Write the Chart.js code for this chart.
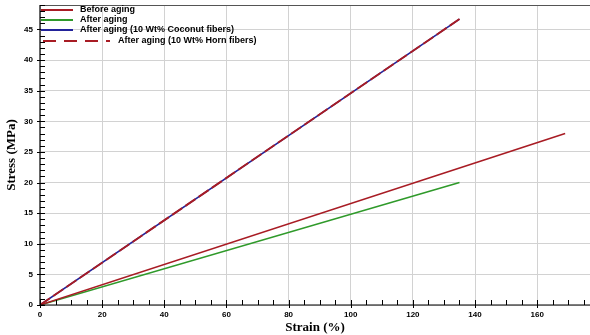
<!DOCTYPE html>
<html>
<head>
<meta charset="utf-8">
<script src="https://cdn.jsdelivr.net/npm/chart.js@4.4.0/dist/chart.umd.min.js"></script>
<style>
  html, body { margin: 0; padding: 0; background: #fff; }
  #wrap { width: 590px; height: 335px; }
</style>
</head>
<body>
<div id="wrap"><canvas id="chart"></canvas></div>
<script>
// Données (déformation %, contrainte MPa)
const seriesNames = [
  'Before aging',
  'After aging',
  'After aging (10 Wt% Coconut fibers)',
  'After aging (10 Wt% Horn fibers)'
];
const beforeStrain = [0, 169];
const beforeStress = [0, 28];
const afterStrain = [0, 135];
const afterStress = [0, 20];
const coconutStrain = [0, 135];
const coconutStress = [0, 46.7];
const hornStrain = [0, 135];
const hornStress = [0, 46.7];

const xTicks = [0, 20, 40, 60, 80, 100, 120, 140, 160];
const yTicks = [0, 5, 10, 15, 20, 25, 30, 35, 40, 45];

const RED = '#a81c24';
const GREEN = '#2f9a2a';
const BLUE = '#23239a';

function toPoints(xs, ys) {
  return xs.map((x, i) => ({ x: x, y: ys[i] }));
}

// Ticks vers l'intérieur + cadre + légende dessinés à la main
const framePlugin = {
  id: 'frame',
  afterDraw(chart) {
    const ctx = chart.ctx;
    const a = chart.chartArea;
    const xs = chart.scales.x;
    const ys = chart.scales.y;
    ctx.save();

    // cadre
    ctx.strokeStyle = '#555';
    ctx.lineWidth = 1;
    ctx.beginPath();
    ctx.moveTo(a.left, a.top + 0.5);
    ctx.lineTo(a.right, a.top + 0.5);
    ctx.stroke();

    ctx.strokeStyle = '#000';
    ctx.lineWidth = 1.2;
    ctx.beginPath();
    ctx.moveTo(a.left, a.top);
    ctx.lineTo(a.left, a.bottom);
    ctx.lineTo(a.right, a.bottom);
    ctx.stroke();

    // ticks x : tous les 5
    ctx.lineWidth = 1;
    for (let v = 0; v <= xs.max; v += 5) {
      const px = Math.round(xs.getPixelForValue(v)) + 0.5;
      const major = v % 20 === 0;
      ctx.beginPath();
      ctx.moveTo(px, a.bottom - 5);
      ctx.lineTo(px, a.bottom + (major ? 3 : 0));
      ctx.stroke();
    }
    // ticks y : tous les 1
    for (let v = 0; v <= ys.max; v += 1) {
      const py = Math.round(ys.getPixelForValue(v)) + 0.5;
      const major = v % 5 === 0;
      ctx.beginPath();
      ctx.moveTo(a.left - (major ? 3 : 0), py);
      ctx.lineTo(a.left + 5, py);
      ctx.stroke();
    }

    // légende
    const rows = [
      { y: 10, x0: 41, x1: 73, tx: 80, color: RED, dash: [] },
      { y: 20, x0: 41, x1: 73, tx: 80, color: GREEN, dash: [] },
      { y: 30, x0: 41, x1: 73, tx: 80, color: BLUE, dash: [] },
      { y: 41, x0: 43, x1: 110, tx: 118, color: RED, dash: [13, 8] }
    ];
    ctx.font = 'bold 9px "Liberation Sans", Arial, sans-serif';
    ctx.textBaseline = 'middle';
    ctx.fillStyle = '#000';
    rows.forEach((r, i) => {
      ctx.strokeStyle = r.color;
      ctx.lineWidth = 2;
      ctx.setLineDash(r.dash);
      ctx.beginPath();
      ctx.moveTo(r.x0, r.y);
      ctx.lineTo(r.x1, r.y);
      ctx.stroke();
      ctx.setLineDash([]);
      ctx.fillText(seriesNames[i], r.tx, r.y);
    });

    ctx.restore();
  }
};

const lineStyle = {
  showLine: true,
  pointRadius: 0,
  pointHoverRadius: 0,
  borderWidth: 1.6,
  tension: 0,
  fill: false
};

new Chart(document.getElementById('chart'), {
  type: 'scatter',
  data: {
    datasets: [
      Object.assign({ label: seriesNames[0], data: toPoints(beforeStrain, beforeStress), borderColor: RED }, lineStyle),
      Object.assign({ label: seriesNames[1], data: toPoints(afterStrain, afterStress), borderColor: GREEN }, lineStyle),
      Object.assign({ label: seriesNames[2], data: toPoints(coconutStrain, coconutStress), borderColor: BLUE }, lineStyle),
      // tirets rouges au-dessus de la ligne bleue
      Object.assign({}, lineStyle, { label: seriesNames[3], data: toPoints(hornStrain, hornStress), borderColor: RED, borderDash: [12, 4], borderWidth: 1.9, order: -1 })
    ]
  },
  options: {
    responsive: true,
    maintainAspectRatio: false,
    animation: false,
    layout: { autoPadding: false, padding: { top: 5, right: 0, left: 0, bottom: 0 } },
    plugins: {
      legend: { display: false },
      tooltip: { enabled: false }
    },
    scales: {
      x: {
        type: 'linear',
        min: 0,
        max: 177,
        afterBuildTicks(scale) {
          scale.ticks = xTicks.map(v => ({ value: v }));
        },
        afterFit(scale) {
          scale.height = 30;
          scale.paddingLeft = 0;
          scale.paddingRight = 0;
        },
        grid: { color: '#d2d2d2', drawTicks: false },
        border: { display: false },
        ticks: {
          padding: 5,
          maxRotation: 0,
          color: '#000',
          font: { family: '"Liberation Sans", Arial, sans-serif', size: 8, weight: 'bold' }
        },
        title: {
          display: true,
          text: 'Strain (%)',
          color: '#000',
          padding: { top: 0, bottom: 0 },
          font: { family: '"Liberation Serif", "Times New Roman", serif', size: 13, weight: 'bold' }
        }
      },
      y: {
        type: 'linear',
        min: 0,
        max: 49,
        afterBuildTicks(scale) {
          scale.ticks = yTicks.map(v => ({ value: v }));
        },
        afterFit(scale) {
          scale.width = 40;
          scale.paddingTop = 0;
          scale.paddingBottom = 0;
        },
        grid: { color: '#d2d2d2', drawTicks: false },
        border: { display: false },
        ticks: {
          padding: 7,
          color: '#000',
          font: { family: '"Liberation Sans", Arial, sans-serif', size: 8, weight: 'bold' }
        },
        title: {
          display: true,
          text: 'Stress (MPa)',
          color: '#000',
          padding: { top: 4, bottom: 0 },
          font: { family: '"Liberation Serif", "Times New Roman", serif', size: 13, weight: 'bold' }
        }
      }
    }
  },
  plugins: [framePlugin]
});
</script>
</body>
</html>
